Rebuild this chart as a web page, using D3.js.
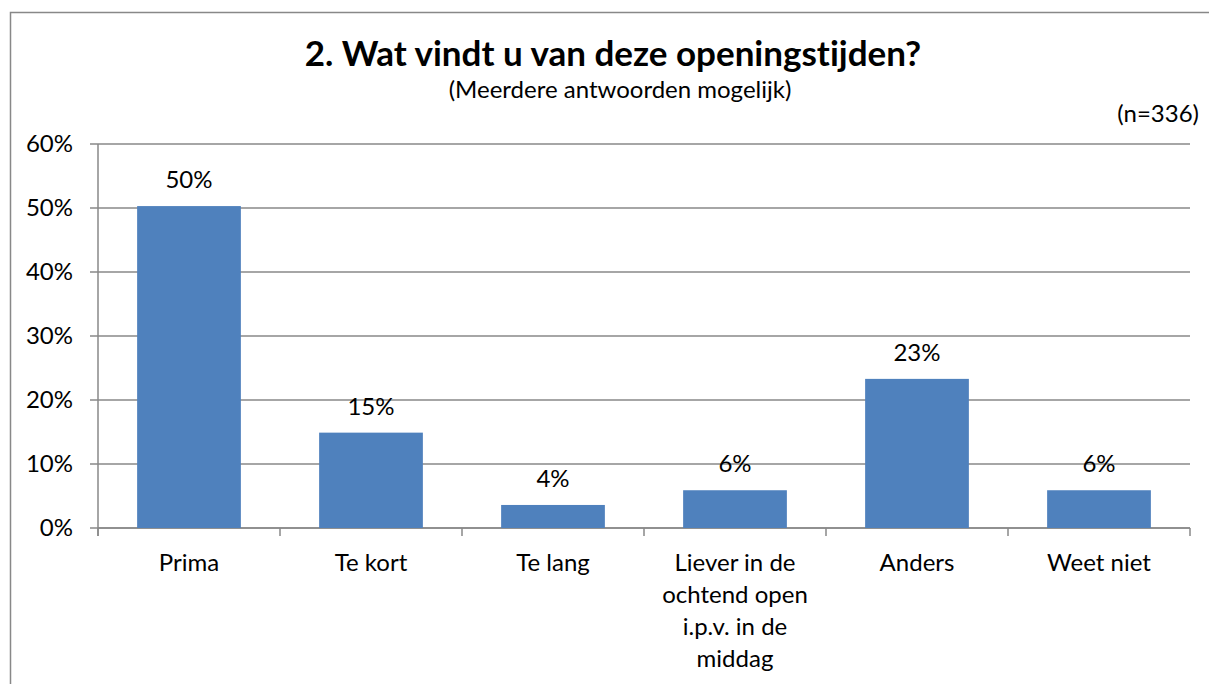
<!DOCTYPE html>
<html lang="en">
<head>
    <meta charset="UTF-8">
    <title>Openingstijden</title>
    <script src="https://d3js.org/d3.v7.min.js"></script>
    <style>
        body {
            margin: 0;
            padding: 0;
            background: #ffffff;
            font-family: Lato, "Open Sans", sans-serif;
        }
        svg {
            display: block;
        }
        text {
            font-variant-ligatures: none;
            fill: #000000;
        }
        .grid line {
            stroke: #888888;
            stroke-width: 1.5px;
        }
        .bar {
            fill: #4f81bd;
        }
    </style>
</head>
<body>
    <svg width="1209" height="684"></svg>

    <script>
        // chart data
        const categories = ["Prima", "Te kort", "Te lang", "Liever in de ochtend open i.p.v. in de middag", "Anders", "Weet niet"];
        const values = [0.503, 0.149, 0.036, 0.059, 0.233, 0.059];
        const valueLabels = ["50%", "15%", "4%", "6%", "23%", "6%"];
        const yTicks = [0, 0.1, 0.2, 0.3, 0.4, 0.5, 0.6];

        const titleText = "2. Wat vindt u van deze openingstijden?";
        const subtitleText = "(Meerdere antwoorden mogelijk)";
        const noteText = "(n=336)";

        const margin = { top: 144, right: 19, bottom: 156, left: 98 };
        const svgEl = d3.select("svg");
        const W = +svgEl.attr("width");
        const H = +svgEl.attr("height");
        const width = W - margin.left - margin.right;
        const height = H - margin.top - margin.bottom;
        const fontSize = "24px";

        // outer chart border (only left and top are visible in the crop)
        svgEl.append("path")
            .attr("d", `M10.5,${H} L10.5,12.5 L${W},12.5`)
            .attr("fill", "none")
            .attr("stroke", "#888888")
            .attr("stroke-width", 1.5);

        // titles
        svgEl.append("text")
            .attr("x", 613)
            .attr("y", 66)
            .attr("text-anchor", "middle")
            .style("font-size", "35px")
            .style("font-weight", "bold")
            .text(titleText);

        svgEl.append("text")
            .attr("x", 620)
            .attr("y", 98)
            .attr("text-anchor", "middle")
            .style("font-size", fontSize)
            .text(subtitleText);

        svgEl.append("text")
            .attr("x", 1199)
            .attr("y", 122)
            .attr("text-anchor", "end")
            .style("font-size", fontSize)
            .text(noteText);

        const g = svgEl.append("g").attr("transform", `translate(${margin.left},${margin.top})`);

        const x = d3.scaleBand().domain(categories).range([0, width]).paddingInner(0.43).paddingOuter(0.215);
        const y = d3.scaleLinear().domain([0, 0.6]).range([height, 0]);

        // horizontal gridlines with the left tick marks
        g.append("g")
            .attr("class", "grid")
            .selectAll("line")
            .data(yTicks)
            .enter().append("line")
            .attr("x1", -8)
            .attr("x2", width)
            .attr("y1", d => y(d))
            .attr("y2", d => y(d));

        // y labels
        g.append("g")
            .selectAll("text")
            .data(yTicks)
            .enter().append("text")
            .attr("x", -25)
            .attr("y", d => y(d))
            .attr("dy", "0.35em")
            .attr("text-anchor", "end")
            .style("font-size", fontSize)
            .text(d => d3.format(".0%")(d));

        // y axis line
        g.append("line")
            .attr("x1", 0).attr("x2", 0)
            .attr("y1", 0).attr("y2", height + 8)
            .attr("stroke", "#888888")
            .attr("stroke-width", 1.5);

        // x axis line and category boundary ticks
        const step = x.step();
        g.append("line")
            .attr("x1", 0).attr("x2", width)
            .attr("y1", height).attr("y2", height)
            .attr("stroke", "#888888")
            .attr("stroke-width", 1.5);

        g.append("g")
            .selectAll("line")
            .data(d3.range(categories.length + 1))
            .enter().append("line")
            .attr("x1", i => i * step).attr("x2", i => i * step)
            .attr("y1", height).attr("y2", height + 8)
            .attr("stroke", "#888888")
            .attr("stroke-width", 1.5);

        // bars
        g.selectAll(".bar")
            .data(values)
            .enter().append("rect")
            .attr("class", "bar")
            .attr("x", (d, i) => x(categories[i]))
            .attr("y", d => y(d))
            .attr("width", x.bandwidth())
            .attr("height", d => height - y(d));

        // value labels
        g.selectAll(".val")
            .data(values)
            .enter().append("text")
            .attr("class", "val")
            .attr("x", (d, i) => x(categories[i]) + x.bandwidth() / 2)
            .attr("y", d => y(d) - 18)
            .attr("text-anchor", "middle")
            .style("font-size", fontSize)
            .text((d, i) => valueLabels[i]);

        // category labels, wrapped like the original
        const wrapWidth = 165;
        const catText = g.selectAll(".cat")
            .data(categories)
            .enter().append("text")
            .attr("class", "cat")
            .attr("x", d => x(d) + x.bandwidth() / 2)
            .attr("y", height + 43)
            .attr("text-anchor", "middle")
            .style("font-size", fontSize);

        catText.each(function (d) {
            const t = d3.select(this);
            const words = d.split(" ");
            let line = [];
            let tspan = t.append("tspan").attr("x", t.attr("x")).attr("dy", 0);
            words.forEach(w => {
                line.push(w);
                tspan.text(line.join(" "));
                if (tspan.node().getComputedTextLength() > wrapWidth && line.length > 1) {
                    line.pop();
                    tspan.text(line.join(" "));
                    line = [w];
                    tspan = t.append("tspan").attr("x", t.attr("x")).attr("dy", 32).text(w);
                }
            });
        });
    </script>
</body>
</html>
